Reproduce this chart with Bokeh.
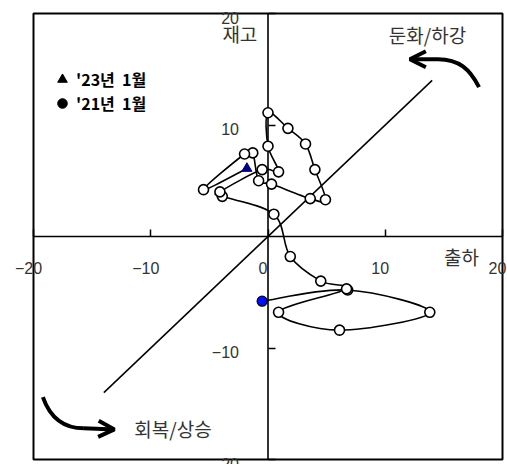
from bokeh.plotting import figure
from bokeh.models import (Range1d, LinearAxis, FixedTicker, Label, Arrow, OpenHead,
                          Legend, LegendItem)
from bokeh.embed import file_html
from bokeh.resources import INLINE

# ---- data ----
# shipment growth (x, 출하) and inventory growth (y, 재고), Jan 2021 -> Jan 2023 path
ship = [-0.5, 6.8, 13.8, 6.1, 0.9, 6.7, 4.5, 1.9, 0.5, -3.9, -4.1, -0.5, 0.9, 0.0,
        0.0, 1.7, 3.2, 4.0, 4.9, 3.6, 0.3, -0.8, -1.3, -2.0, -5.5, -1.8]
inv = [-5.8, -4.8, -6.8, -8.4, -6.8, -4.7, -4.0, -1.8, 2.0, 3.6, 4.0, 6.0, 5.8, 8.1,
       11.1, 9.7, 8.3, 6.0, 3.3, 3.4, 4.7, 5.0, 7.5, 7.4, 4.2, 6.1]

x_ticks = [-20, -10, 0, 10, 20]
y_ticks = [-20, -10, 10, 20]
tick_labels = {-20: "\u221220", -10: "\u221210", 0: "0", 10: "10", 20: "20"}

diag_x = [-14, 14]
diag_y = [-14, 14]

legend_labels = ["'23년  1월", "'21년  1월"]

# decorative arrows: (start, control0, control1, end) then arrow head to tip
arrow_top = dict(x0=18.0, y0=13.4, cx0=17.2, cy0=15.0, cx1=16.3, cy1=15.9, x1=14.5, y1=15.9, tx=12.1, ty=15.9)
arrow_bot = dict(x0=-19.2, y0=-14.4, cx0=-18.6, cy0=-16.2, cx1=-17.5, cy1=-17.2, x1=-15.7, y1=-17.2, tx=-13.1, ty=-17.3)

corner_texts = [
    ("재고", -2.4, 18.2),
    ("둔화/하강", 13.6, 18.1),
    ("출하", 16.5, -1.8),
    ("회복/상승", -8.1, -17.2),
]

KFONT = "Noto Sans CJK KR"
NFONT = "Liberation Sans"

W, H = 507, 464
# pixel layout of the boxed area [-20, 20] x [-20, 20] inside the canvas
BOX_L, BOX_R, BOX_T, BOX_B = 33, 502, 13, 459
lo, hi = x_ticks[0], x_ticks[-1]
sx = (BOX_R - BOX_L) / (hi - lo)
sy = (BOX_B - BOX_T) / (hi - lo)
x_range = Range1d(lo - BOX_L / sx, hi + (W - BOX_R) / sx)
y_range = Range1d(lo - (H - BOX_B) / sy, hi + BOX_T / sy)

p = figure(width=W, height=H, x_range=x_range, y_range=y_range,
           x_axis_type=None, y_axis_type=None, toolbar_location=None,
           output_backend="svg", min_border_left=0, min_border_right=0,
           min_border_top=0, min_border_bottom=0)
p.outline_line_color = None
p.background_fill_color = "white"
p.border_fill_color = "white"

# box around the chart area
p.quad(left=[lo], right=[hi], bottom=[lo], top=[hi], fill_color=None,
       line_color="black", line_width=2)

# axis lines through the origin
p.line([lo, hi], [0, 0], line_color="black", line_width=1.6)
p.line([0, 0], [lo, hi], line_color="black", line_width=1.6)

# tick marks (axes without lines or labels)
xaxis = LinearAxis(fixed_location=0, ticker=FixedTicker(ticks=x_ticks),
                   major_label_overrides={t: "" for t in x_ticks})
yaxis = LinearAxis(fixed_location=0, ticker=FixedTicker(ticks=y_ticks),
                   major_label_overrides={t: "" for t in y_ticks})
for ax in (xaxis, yaxis):
    ax.axis_line_color = None
    ax.major_tick_in = 7
    ax.major_tick_out = 0
    ax.major_tick_line_width = 1.5
    ax.major_tick_line_color = "black"
    ax.minor_tick_line_color = None
    ax.major_label_text_font_size = "1px"
p.add_layout(xaxis, "below")
p.add_layout(yaxis, "left")

for t in x_ticks:
    p.add_layout(Label(x=t, y=0, text=tick_labels[t], x_offset=-5, y_offset=-31,
                       text_align="center", text_baseline="middle", text_font=NFONT,
                       text_font_size="16px", text_color="#333333"))
for t in y_ticks:
    p.add_layout(Label(x=0, y=t, text=tick_labels[t], x_offset=-29, y_offset=-4,
                       text_align="right", text_baseline="middle", text_font=NFONT,
                       text_font_size="16px", text_color="#333333"))

# diagonal
p.line(diag_x, diag_y, line_color="black", line_width=1.5)

# smooth path (Catmull-Rom -> cubic Bezier)
n = len(ship)
bx0, by0, bx1, by1, cx0, cy0, cx1, cy1 = [], [], [], [], [], [], [], []
for i in range(n - 1):
    pm = max(i - 1, 0)
    pp = min(i + 2, n - 1)
    bx0.append(ship[i]); by0.append(inv[i])
    bx1.append(ship[i + 1]); by1.append(inv[i + 1])
    cx0.append(ship[i] + (ship[i + 1] - ship[pm]) / 6.0)
    cy0.append(inv[i] + (inv[i + 1] - inv[pm]) / 6.0)
    cx1.append(ship[i + 1] - (ship[pp] - ship[i]) / 6.0)
    cy1.append(inv[i + 1] - (inv[pp] - inv[i]) / 6.0)
p.bezier(x0=bx0, y0=by0, x1=bx1, y1=by1, cx0=cx0, cy0=cy0, cx1=cx1, cy1=cy1,
         line_color="black", line_width=1.6)

# markers
p.scatter(ship[1:-1], inv[1:-1], size=10, fill_color="white", line_color="black",
          line_width=1.6, level="annotation")
p.scatter([ship[0]], [inv[0]], size=10, fill_color="#0010ff", line_color="black",
          line_width=1.2, level="annotation")
p.scatter([ship[-1]], [inv[-1]], marker="triangle", size=10, fill_color="#000080",
          line_color="#000080", level="annotation")

# decorative arrows
for a in (arrow_top, arrow_bot):
    p.bezier(x0=[a["x0"]], y0=[a["y0"]], x1=[a["x1"]], y1=[a["y1"]],
             cx0=[a["cx0"]], cy0=[a["cy0"]], cx1=[a["cx1"]], cy1=[a["cy1"]],
             line_color="black", line_width=4)
    p.add_layout(Arrow(end=OpenHead(size=16, line_width=4, line_color="black"),
                       x_start=a["x1"], y_start=a["y1"], x_end=a["tx"], y_end=a["ty"],
                       line_width=4, line_color="black"))

for txt, tx, ty in corner_texts:
    p.add_layout(Label(x=tx, y=ty, text=txt, text_align="center", text_baseline="middle",
                       text_font=KFONT, text_font_size="19px", text_color="#333333"))

# legend (black symbols); the renderers themselves stay hidden
r_tri = p.scatter(x=[ship[-1]], y=[inv[-1]], marker="triangle", fill_color="black",
                  line_color="black", visible=False)
r_cir = p.scatter(x=[ship[0]], y=[inv[0]], marker="circle", fill_color="black",
                  line_color="black", visible=False)
legend = Legend(items=[LegendItem(label=legend_labels[0], renderers=[r_tri]),
                       LegendItem(label=legend_labels[1], renderers=[r_cir])],
                location=(48, 349), orientation="vertical")
legend.background_fill_alpha = 0
legend.border_line_alpha = 0
legend.label_text_font = KFONT
legend.label_text_font_style = "bold"
legend.label_text_font_size = "16px"
legend.label_text_color = "black"
legend.glyph_width = 28
legend.glyph_height = 24
legend.spacing = 0
legend.padding = 0
legend.margin = 0
legend.label_standoff = 0
legend.label_height = 20
p.add_layout(legend)

open("out.html", "w").write(file_html(p, INLINE))
